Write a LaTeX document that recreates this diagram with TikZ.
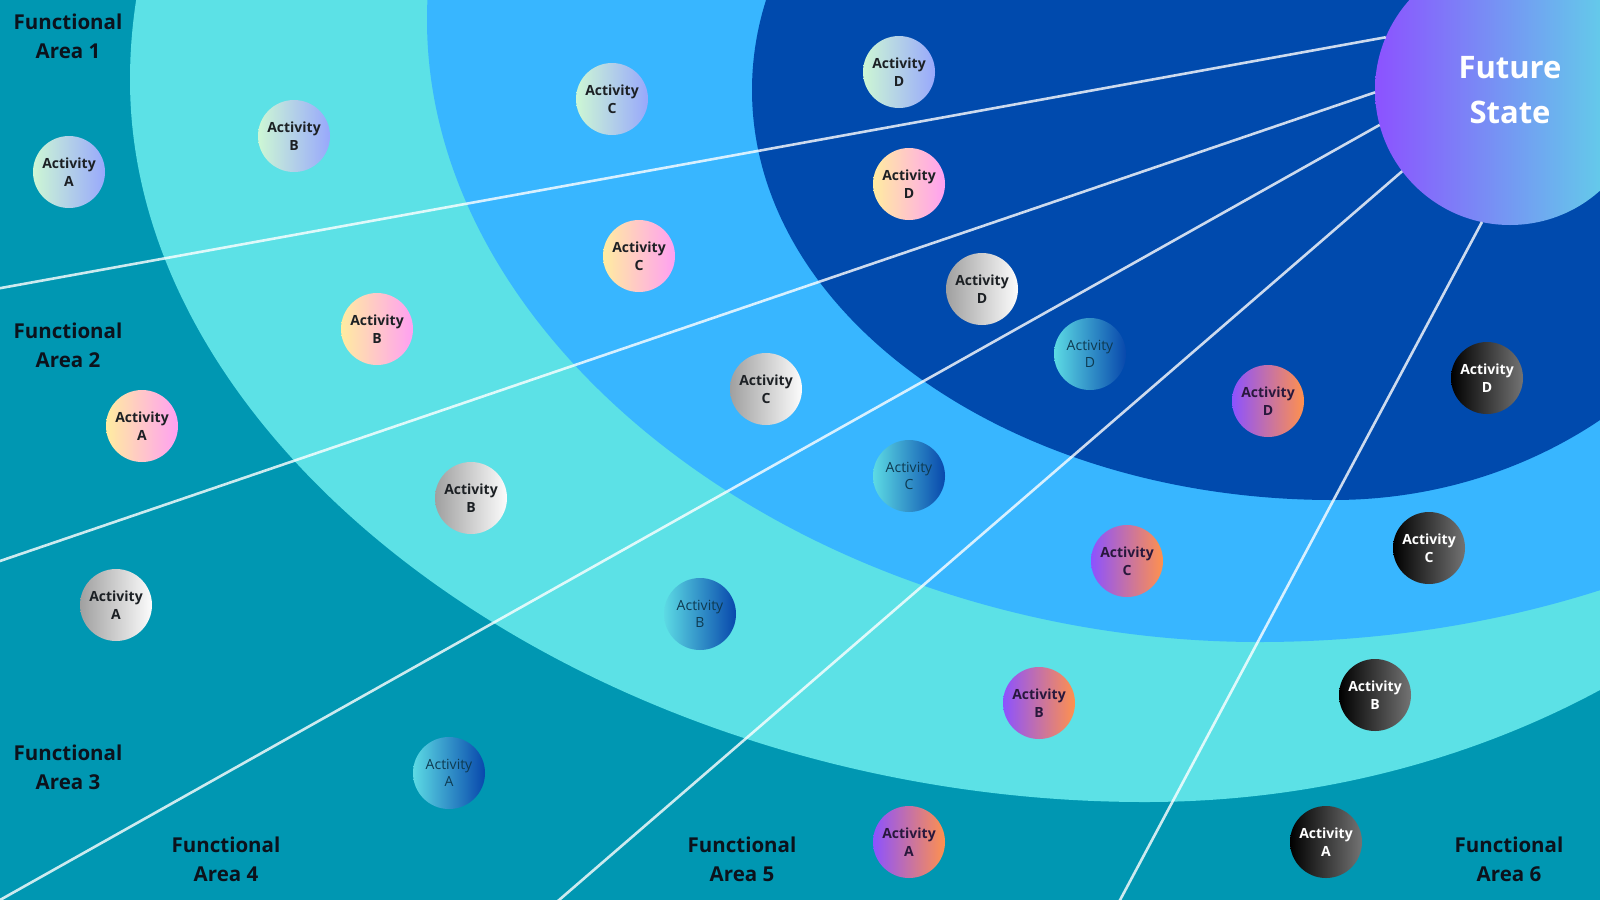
\documentclass[tikz,border=0pt]{standalone}
\usepackage{fontspec}
\setmainfont{Open Sans}
\definecolor{tealbg}{RGB}{0,151,178}
\definecolor{cyanring}{RGB}{92,225,230}
\definecolor{medring}{RGB}{56,182,255}
\definecolor{darkring}{RGB}{0,74,173}
\definecolor{inkc}{RGB}{12,18,28}
\definecolor{actink}{RGB}{28,32,36}
\definecolor{tealink}{RGB}{14,58,80}
\definecolor{purpink}{RGB}{40,24,60}
\definecolor{mintc}{RGB}{205,247,212}
\definecolor{lavc}{RGB}{152,168,252}
\definecolor{yelc}{RGB}{255,236,160}
\definecolor{pinkc}{RGB}{255,160,242}
\definecolor{grayl}{RGB}{160,160,160}
\definecolor{grayr}{RGB}{252,252,252}
\definecolor{cyl}{RGB}{92,218,228}
\definecolor{bldk}{RGB}{8,72,172}
\definecolor{purl}{RGB}{140,82,255}
\definecolor{orgr}{RGB}{255,145,77}
\definecolor{blkl}{RGB}{0,0,0}
\definecolor{blkr}{RGB}{115,115,115}
\definecolor{fsl}{RGB}{140,82,255}
\definecolor{fsr}{RGB}{92,225,230}
\tikzset{
  act/.style={circle, minimum size=72pt, inner sep=0pt, outer sep=0pt, align=center,
    font=\fontsize{14}{17.5}\selectfont\bfseries},
  gone/.style={act, left color=mintc, right color=lavc, text=actink},
  gtwo/.style={act, left color=yelc, right color=pinkc, text=actink},
  gthree/.style={act, left color=grayl, right color=grayr, text=actink},
  gfour/.style={act, left color=cyl, right color=bldk, text=tealink,
    font=\fontsize{14}{17.5}\selectfont},
  gfive/.style={act, left color=purl, right color=orgr, text=purpink},
  gsix/.style={act, left color=blkl, right color=blkr, text=white},
  ray/.style={draw=white, draw opacity=0.8, line width=2.6pt},
  area/.style={align=center, inner sep=0pt, font=\fontsize{20.5}{29}\selectfont\bfseries, text=inkc},
  future/.style={circle, minimum size=270pt, inner sep=0pt, outer sep=0pt, align=center,
    left color=fsl, right color=fsr, text=white, font=\fontsize{31}{45}\selectfont\bfseries},
}
\begin{document}
\begin{tikzpicture}[x=1pt,y=-1pt]
\useasboundingbox (0,0) rectangle (1600,900);
\clip (0,0) rectangle (1600,900);
\fill[tealbg] (0,0) rectangle (1600,900);
% outer ring
\fill[cyanring] (1145,-642) .. controls (584.4,-642) and (130,-318.8) .. (130,80)
  .. controls (130,462.7) and (607,802) .. (1145,802)
  .. controls (1614.5,802) and (1995,478.8) .. (1995,80) -- (1995,-642) -- cycle;
% middle ring
\fill[medring] (1259,-602) .. controls (799.5,-602) and (427,-323.5) .. (427,20)
  .. controls (427,352.8) and (813.9,642) .. (1259,642)
  .. controls (1729.6,642) and (2111,363.5) .. (2111,20) -- (2111,-602) -- cycle;
% inner ring
\fill[darkring] (1333,-320) .. controls (1012.1,-320) and (752,-136.4) .. (752,90)
  .. controls (752,316.4) and (1012.1,500) .. (1333,500)
  .. controls (1581.5,500) and (1783,316.4) .. (1783,90) -- (1783,-320) -- cycle;

\node[future] (fs) at (1510,90) {Future\\State};

\coordinate (e1) at (-10,290);
\coordinate (e2) at (-10,564.4);
\coordinate (e3) at (-10,905.6);
\coordinate (e4) at (547.5,910);
\coordinate (e5) at (1114.7,910);
\draw[ray] (fs.157.4) -- (e1);
\draw[ray] (fs.181.3) -- (e2);
\draw[ray] (fs.195) -- (e3);
\draw[ray] (fs.217.2) -- (e4);
\draw[ray] (fs.258) -- (e5);

\node[gone] (a1) at (69,172) {Activity\\A};
\node[gone] (b1) at (294,136) {Activity\\B};
\node[gone] (c1) at (612,99) {Activity\\C};
\node[gone] (d1) at (899,72) {Activity\\D};

\node[gtwo] (a2) at (142,426) {Activity\\A};
\node[gtwo] (b2) at (377,329) {Activity\\B};
\node[gtwo] (c2) at (639,256) {Activity\\C};
\node[gtwo] (d2) at (909,184) {Activity\\D};

\node[gthree] (a3) at (116,605) {Activity\\A};
\node[gthree] (b3) at (471,498) {Activity\\B};
\node[gthree] (c3) at (766,389) {Activity\\C};
\node[gthree] (d3) at (982,289) {Activity\\D};

\node[gfour] (a4) at (449,773) {Activity\\A};
\node[gfour] (b4) at (700,614) {Activity\\B};
\node[gfour] (c4) at (909,476) {Activity\\C};
\node[gfour] (d4) at (1090,354) {Activity\\D};

\node[gfive] (a5) at (909,842) {Activity\\A};
\node[gfive] (b5) at (1039,703) {Activity\\B};
\node[gfive] (c5) at (1127,561) {Activity\\C};
\node[gfive] (d5) at (1268,401) {Activity\\D};

\node[gsix] (a6) at (1326,842) {Activity\\A};
\node[gsix] (b6) at (1375,695) {Activity\\B};
\node[gsix] (c6) at (1429,548) {Activity\\C};
\node[gsix] (d6) at (1487,378) {Activity\\D};

\node[area] (fa1) at (68,36) {Functional\\Area 1};
\node[area] (fa2) at (68,345) {Functional\\Area 2};
\node[area] (fa3) at (68,767) {Functional\\Area 3};
\node[area] (fa4) at (226,859) {Functional\\Area 4};
\node[area] (fa5) at (742,859) {Functional\\Area 5};
\node[area] (fa6) at (1509,859) {Functional\\Area 6};
\end{tikzpicture}
\end{document}
